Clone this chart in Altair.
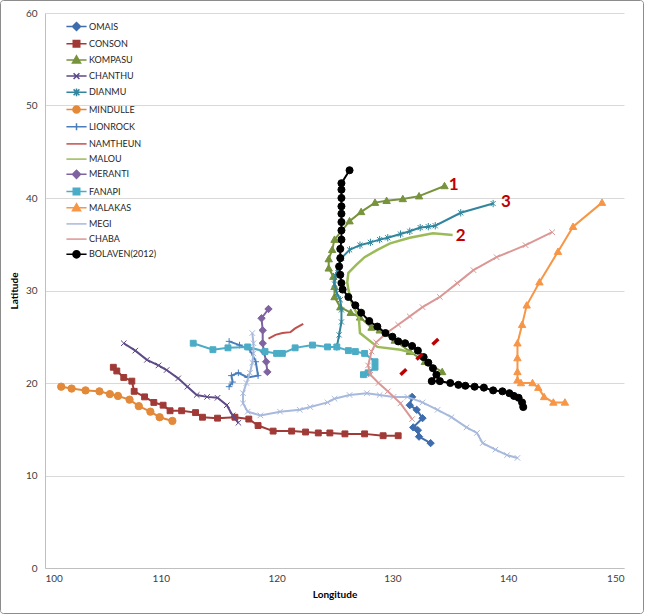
import altair as alt
import pandas as pd

# ---------------- data ----------------
names = ["OMAIS", "CONSON", "KOMPASU", "CHANTHU", "DIANMU", "MINDULLE", "LIONROCK",
         "NAMTHEUN", "MALOU", "MERANTI", "FANAPI", "MALAKAS", "MEGI", "CHABA", "BOLAVEN(2012)"]

omais_lon = [133.3, 132.3, 132.2, 131.8, 132.6, 132.1, 131.5, 131.7]
omais_lat = [13.5, 14.2, 14.9, 15.2, 16.2, 17.1, 17.6, 18.5]

conson_lon = [105.9, 106.2, 106.8, 107.5, 107.7, 108.6, 109.4, 110.2, 110.8, 111.8, 113.0, 113.6, 114.9,
              116.4, 117.6, 118.4, 119.7, 121.3, 122.5, 123.6, 124.6, 125.9, 127.6, 129.2, 130.5]
conson_lat = [21.7, 21.3, 20.6, 20.2, 19.1, 18.5, 17.9, 17.6, 17.0, 17.0, 16.8, 16.3, 16.2,
              16.3, 16.1, 15.4, 14.8, 14.8, 14.7, 14.6, 14.6, 14.5, 14.5, 14.3, 14.3]

kompasu_lon = [134.3, 132.8, 131.5, 130.2, 128.9, 128.2, 127.2, 126.4, 125.5, 125.0, 125.0, 124.9, 124.5,
               124.5, 124.8, 125.0, 126.3, 127.3, 128.5, 129.5, 130.9, 132.3, 134.5]
kompasu_lat = [21.2, 22.3, 23.4, 24.6, 25.7, 26.0, 27.1, 27.6, 28.2, 29.3, 30.4, 31.5, 32.4,
               33.4, 34.4, 35.5, 37.5, 38.5, 39.5, 39.7, 39.9, 40.2, 41.3]

chanthu_lon = [106.8, 107.8, 108.8, 109.8, 110.5, 111.5, 112.3, 113.1, 114.0, 114.9, 115.7, 116.2, 116.7]
chanthu_lat = [24.3, 23.5, 22.5, 21.9, 21.4, 20.5, 19.6, 18.7, 18.5, 18.4, 17.6, 16.5, 15.7]

dianmu_lon = [125.2, 125.4, 125.6, 125.6, 125.5, 125.2, 125.0, 125.1, 125.3, 125.6, 126.3, 127.2, 128.1,
              128.9, 129.6, 130.7, 131.5, 132.4, 133.1, 133.7, 135.9, 138.7]
dianmu_lat = [23.9, 25.2, 26.6, 27.9, 29.0, 29.7, 30.7, 31.6, 32.4, 33.5, 34.4, 34.9, 35.2,
              35.5, 35.7, 36.1, 36.4, 36.8, 36.9, 37.0, 38.4, 39.4]

mindulle_lon = [101.4, 102.3, 103.5, 104.7, 105.6, 106.3, 107.3, 108.1, 109.1, 109.9, 111.0]
mindulle_lat = [19.6, 19.4, 19.2, 19.1, 18.8, 18.6, 18.2, 17.5, 16.9, 16.3, 15.9]

lionrock_lon = [115.9, 116.8, 117.7, 118.2, 118.4, 117.5, 116.7, 116.1, 116.2, 115.9]
lionrock_lat = [24.5, 24.1, 23.6, 22.3, 20.8, 20.6, 21.1, 20.8, 20.1, 19.6]

namtheun_lon = [119.3, 119.9, 120.5, 121.2, 121.6, 122.3]
namtheun_lat = [24.8, 25.2, 25.4, 25.5, 25.9, 26.4]

malou_lon = [131.9, 130.7, 128.7, 127.2, 127.1, 126.5, 126.2, 126.1, 126.2, 126.9, 127.6, 128.7, 129.8,
             131.5, 133.5, 135.2]
malou_lat = [23.2, 23.6, 23.9, 25.4, 27.1, 28.6, 30.1, 30.9, 31.9, 32.8, 33.6, 34.4, 35.1,
             35.7, 36.2, 36.0]

meranti_lon = [119.2, 119.1, 118.9, 118.8, 118.8, 118.7, 119.3]
meranti_lat = [21.2, 22.3, 23.4, 24.3, 25.7, 27.0, 28.0]

fanapi_lon = [127.5, 127.9, 128.5, 128.5, 127.6, 126.8, 126.2, 125.2, 124.4, 123.1, 121.6, 120.5, 120.0,
              119.0, 117.5, 115.8, 114.5, 112.8]
fanapi_lat = [20.9, 21.1, 21.7, 22.3, 23.2, 23.4, 23.5, 23.9, 23.9, 24.1, 23.8, 23.2, 23.2,
              23.4, 23.9, 23.8, 23.6, 24.3]

malakas_lon = [144.9, 143.9, 143.1, 142.6, 142.1, 141.1, 140.8, 140.8, 140.8, 140.8, 141.2, 141.6, 142.7,
               144.3, 145.6, 148.1]
malakas_lat = [17.9, 17.9, 18.5, 19.5, 20.0, 20.0, 20.3, 21.2, 22.7, 24.3, 26.3, 28.4, 30.9,
               34.2, 36.9, 39.5]

megi_lon = [140.8, 139.9, 138.9, 137.8, 137.3, 136.4, 135.1, 133.9, 132.6, 131.3, 130.1, 128.9, 127.8,
            126.3, 125.0, 124.4, 122.9, 122.0, 120.3, 118.6, 117.5, 117.1, 117.1, 117.4, 117.7, 117.9,
            118.0, 118.0, 117.9]
megi_lat = [11.9, 12.2, 12.8, 13.5, 14.6, 15.2, 16.3, 17.1, 17.9, 18.5, 18.5, 18.7, 18.9,
            18.7, 18.3, 17.9, 17.4, 17.1, 16.9, 16.5, 16.9, 17.8, 18.9, 20.0, 21.1, 22.2,
            23.2, 24.3, 25.4]

chaba_lon = [131.7, 130.7, 129.6, 128.8, 128.1, 127.9, 128.2, 128.6, 129.5, 130.5, 131.5, 132.6, 134.1,
             135.6, 137.0, 139.0, 141.5, 143.8]
chaba_lat = [16.1, 17.8, 19.1, 20.0, 20.9, 21.9, 23.4, 24.4, 25.4, 26.3, 27.2, 28.2, 29.3,
             30.8, 32.2, 33.6, 34.9, 36.3]

bolaven_lon = [141.3, 141.2, 140.9, 140.5, 140.1, 139.5, 138.7, 137.9, 137.1, 136.3, 135.7, 135.0, 134.1,
               133.4, 133.8, 133.5, 133.1, 132.7, 132.2, 131.7, 131.1, 130.5, 130.0, 129.4, 128.7, 128.0,
               127.3, 126.8, 126.2, 125.7, 125.6, 125.5, 125.4, 125.5, 125.5, 125.6, 125.6, 125.6, 125.6,
               125.6, 125.6, 125.6, 125.6, 126.3]
bolaven_lat = [17.4, 17.9, 18.4, 18.6, 18.9, 19.1, 19.2, 19.5, 19.6, 19.7, 19.8, 20.0, 20.2,
               20.2, 20.9, 21.6, 22.2, 22.8, 23.5, 24.0, 24.3, 24.5, 25.0, 25.4, 26.1, 26.7,
               27.6, 28.4, 29.3, 30.1, 30.8, 31.7, 32.6, 33.5, 34.5, 35.5, 36.5, 37.4, 38.3,
               39.1, 40.0, 40.9, 41.6, 43.0]

tracks = {
    "OMAIS": (omais_lon, omais_lat), "CONSON": (conson_lon, conson_lat),
    "KOMPASU": (kompasu_lon, kompasu_lat), "CHANTHU": (chanthu_lon, chanthu_lat),
    "DIANMU": (dianmu_lon, dianmu_lat), "MINDULLE": (mindulle_lon, mindulle_lat),
    "LIONROCK": (lionrock_lon, lionrock_lat), "NAMTHEUN": (namtheun_lon, namtheun_lat),
    "MALOU": (malou_lon, malou_lat), "MERANTI": (meranti_lon, meranti_lat),
    "FANAPI": (fanapi_lon, fanapi_lat), "MALAKAS": (malakas_lon, malakas_lat),
    "MEGI": (megi_lon, megi_lat), "CHABA": (chaba_lon, chaba_lat),
    "BOLAVEN(2012)": (bolaven_lon, bolaven_lat),
}

note_labels = ["1", "2", "3"]
note_lon = [135.3, 135.9, 139.8]
note_lat = [41.4, 35.9, 39.6]

cut_lon = [130.7, 134.0]
cut_lat = [20.9, 24.8]

x_ticks = [100, 110, 120, 130, 140, 150]
y_ticks = [0, 10, 20, 30, 40, 50, 60]

# ---------------- styles ----------------
colors = {
    "OMAIS": "#3E6DAD", "CONSON": "#A03A37", "KOMPASU": "#77933C", "CHANTHU": "#5E4A86",
    "DIANMU": "#31859C", "MINDULLE": "#E3893A", "LIONROCK": "#4A7EBB", "NAMTHEUN": "#C0504D",
    "MALOU": "#9BBB59", "MERANTI": "#7F63A1", "FANAPI": "#4BACC6", "MALAKAS": "#F79646",
    "MEGI": "#A7B9DC", "CHABA": "#DB9795", "BOLAVEN(2012)": "#000000",
}
marker_of = {
    "OMAIS": "diamond", "CONSON": "square", "KOMPASU": "triangle", "CHANTHU": "x",
    "DIANMU": "asterisk", "MINDULLE": "circle", "LIONROCK": "plus", "NAMTHEUN": None,
    "MALOU": None, "MERANTI": "diamond", "FANAPI": "square", "MALAKAS": "triangle",
    "MEGI": "x", "CHABA": "x", "BOLAVEN(2012)": "circle",
}
legend_marker_of = dict(marker_of)
legend_marker_of["MEGI"] = None
legend_marker_of["CHABA"] = None

chart_paths = {
    "diamond": "M0,-1L1,0L0,1L-1,0Z",
    "square": "M-0.8,-0.8H0.8V0.8H-0.8Z",
    "triangle": "M0,-1L1,0.75H-1Z",
    "circle": "circle",
    "x": "M-0.75,-0.75L0.75,0.75M-0.75,0.75L0.75,-0.75",
    "plus": "M-0.9,0H0.9M0,-0.9V0.9",
    "asterisk": "M-0.7,-0.7L0.7,0.7M-0.7,0.7L0.7,-0.7M0,-1V1",
}
legend_line = "M-1.55,0H1.55"
legend_paths = {
    None: "",
    "diamond": "M0,-0.62L0.62,0L0,0.62L-0.62,0Z",
    "square": "M-0.5,-0.5H0.5V0.5H-0.5Z",
    "triangle": "M0,-0.62L0.62,0.46H-0.62Z",
    "circle": "M-0.55,0A0.55 0.55 0 1 0 0.55,0A0.55 0.55 0 1 0 -0.55,0Z",
    "x": "M-0.45,-0.45L0.45,0.45M-0.45,0.45L0.45,-0.45",
    "plus": "M0,-0.55V0.55",
    "asterisk": "M-0.45,-0.45L0.45,0.45M-0.45,0.45L0.45,-0.45M0,-0.6V0.6",
}

FONT = "Lato"

# ---------------- table ----------------
rows = []
for s in names:
    lons, lats = tracks[s]
    for i, (lo, la) in enumerate(zip(lons, lats)):
        rows.append({"series": s, "idx": i, "lon": lo, "lat": la})
df = pd.DataFrame(rows)

notes = pd.DataFrame({"label": note_labels, "lon": note_lon, "lat": note_lat})
cut = pd.DataFrame({"lon": cut_lon, "lat": cut_lat, "idx": [0, 1]})


def ternary(mapping, default):
    expr = repr(default)
    for k in reversed(names):
        expr = f"datum.value === {k!r} ? {mapping[k]!r} : ({expr})"
    return expr


shape_expr = ternary({s: legend_line + legend_paths[legend_marker_of[s]] for s in names}, legend_line)
color_expr = ternary(colors, "#000000")

x_scale = alt.Scale(domain=[100, 150], nice=False, zero=False)
y_scale = alt.Scale(domain=[0, 60], nice=False, zero=False)
stroke_scale = alt.Scale(domain=names, range=[colors[s] for s in names])

x_axis = alt.Axis(values=x_ticks, title="Longitude", grid=False, ticks=False,
                  domainColor="#BFBFBF", domainWidth=1, labelFontSize=10, labelColor="#404040",
                  labelPadding=5, titleFontSize=10, titleFontWeight="bold", titleColor="#000000",
                  titlePadding=6, format="d", labelFont=FONT, titleFont=FONT)
y_axis = alt.Axis(values=y_ticks, title="Latitude", grid=True, gridColor="#D9D9D9", ticks=False,
                  domainColor="#BFBFBF", domainWidth=1, labelFontSize=10, labelColor="#404040",
                  labelPadding=8, titleFontSize=10, titleFontWeight="bold", titleColor="#000000",
                  titlePadding=6, format="d", labelFont=FONT, titleFont=FONT)

X = alt.X("lon:Q", scale=x_scale, axis=x_axis, title="Longitude")
Y = alt.Y("lat:Q", scale=y_scale, axis=y_axis, title="Latitude")

legend = alt.Legend(
    title=None, orient="none", legendX=24, legendY=6, direction="vertical",
    labelFont=FONT, labelFontSize=9, labelColor="#262626", labelOffset=5,
    symbolSize=169, symbolStrokeWidth=1.5, symbolOpacity=1, rowPadding=2.2, padding=0,
    symbolType={"expr": shape_expr},
    symbolFillColor={"expr": color_expr},
)

layers = []

base = alt.Chart(df)
for k, s in enumerate(names):
    sub = base.transform_filter(alt.datum.series == s)
    lw = 2.5 if s == "MALOU" else 2
    line = sub.mark_line(strokeWidth=lw).encode(
        x=X, y=Y,
        stroke=alt.Stroke("series:N", scale=stroke_scale, legend=legend if k == 0 else None),
        order=alt.Order("idx:Q"),
    )
    layers.append(line)
    m = marker_of[s]
    if m is not None:
        size = 50 if s == "BOLAVEN(2012)" else 54
        pts = sub.mark_point(shape=chart_paths[m], filled=True, fill=colors[s], stroke=colors[s],
                             strokeWidth=1, size=size, opacity=1).encode(x=X, y=Y)
        layers.append(pts)

cut_line = alt.Chart(cut).mark_line(color="#C00000", strokeWidth=3.5, strokeDash=[8, 14]).encode(
    x=X, y=Y, order="idx:Q")
layers.append(cut_line)

note_text = alt.Chart(notes).mark_text(color="#C00000", fontSize=17, fontWeight="bold", font=FONT,
                                       align="center", baseline="middle").encode(
    x=X, y=Y, text="label:N")
layers.append(note_text)

# outer frame of the chart area (drawn last, transparent inside)
frame = alt.Chart(pd.DataFrame({"k": [0]})).mark_rect(
    fill="transparent", stroke="#8C8C8C", strokeWidth=1, cornerRadius=3
).encode(x=alt.value(-44.5), x2=alt.value(598.5), y=alt.value(-12.5), y2=alt.value(600.5))
layers.append(frame)

chart = alt.layer(*layers).properties(
    width=579, height=555,
    autosize=alt.AutoSizeParams(type="none"),
    padding={"left": 45, "top": 13, "right": 21, "bottom": 47},
    background="white",
).configure_view(stroke=None)

chart.save("out.html", embed_options={"renderer": "svg", "actions": False})
